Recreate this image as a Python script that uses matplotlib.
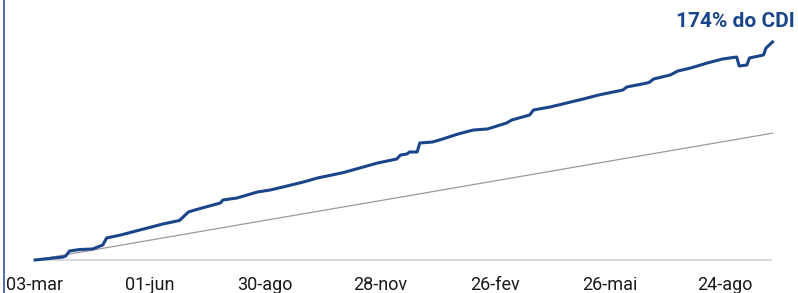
import matplotlib
matplotlib.use("Agg")
import matplotlib.pyplot as plt
import numpy as np
import pandas as pd

plt.rcParams['font.family'] = ['Roboto', 'DejaVu Sans']

start = pd.Timestamp('2019-03-03')

# fund (accumulated %), days since start
fund_days = [0, 22, 24, 27, 35, 45, 49, 53, 56, 67, 82, 100, 113, 120, 125,
             145, 147, 158, 174, 184, 194, 210, 221, 241, 268, 283, 286, 291,
             293, 299, 301, 311, 319, 331, 343, 354, 369, 373, 387, 390, 403,
             416, 429, 441, 460, 463, 479, 481, 484, 497, 503, 513, 526, 538,
             549, 551, 557, 559, 570, 572, 577]
fund_vals = [0.00, 0.18, 0.24, 0.54, 0.63, 0.66, 0.78, 0.90, 1.32, 1.50, 1.80,
             2.16, 2.37, 2.88, 3.00, 3.42, 3.60, 3.72, 4.08, 4.20, 4.38, 4.68,
             4.92, 5.24, 5.82, 6.06, 6.30, 6.36, 6.48, 6.48, 7.02, 7.08, 7.26,
             7.56, 7.80, 7.86, 8.22, 8.40, 8.70, 9.00, 9.18, 9.42, 9.66, 9.90,
             10.20, 10.38, 10.62, 10.68, 10.86, 11.10, 11.34, 11.52, 11.82,
             12.06, 12.18, 11.64, 11.70, 12.12, 12.30, 12.72, 13.08]

# CDI (accumulated %)
cdi_days = [0, 90, 180, 270, 360, 450, 540, 577]
cdi_vals = [0.00, 1.19, 2.38, 3.56, 4.75, 5.94, 7.12, 7.61]

tick_days = [0, 90, 180, 270, 360, 450, 540]
tick_labels = ['03-mar', '01-jun', '30-ago', '28-nov', '26-fev', '26-mai', '24-ago']

fund_x = start + pd.to_timedelta(fund_days, unit='D')
cdi_x = start + pd.to_timedelta(cdi_days, unit='D')
tick_x = start + pd.to_timedelta(tick_days, unit='D')

fig = plt.figure(figsize=(7.98, 2.93), dpi=100)
ax = fig.add_axes([4 / 798, 0, 794 / 798, 1])

ax.hlines(0, fund_x[0], fund_x[-1], color='#D9D9D9', lw=1.5, zorder=1)
ax.plot(cdi_x, cdi_vals, color='#9A9A9A', lw=0.9, zorder=2)
ax.plot(fund_x, fund_vals, color='#1B458A', lw=2.2, zorder=3,
        solid_joinstyle='round')

ax.annotate('174% do CDI', xy=(fund_x[-1], fund_vals[-1]),
            xytext=(16, 11), textcoords='offset points',
            ha='right', va='baseline', fontsize=15, fontweight='bold',
            color='#1B458A')

ax.set_xlim(start - pd.Timedelta(days=24.3), start + pd.Timedelta(days=597))
ax.set_ylim(-1.98, 15.6)

ax.set_xticks(tick_x)
ax.set_xticklabels(tick_labels, fontsize=13, color='#1a1a1a')
ax.tick_params(axis='x', length=0, pad=-12.6)
ax.set_yticks([])

for s in ['top', 'right', 'bottom']:
    ax.spines[s].set_visible(False)
ax.spines['left'].set_color('#2F5597')
ax.spines['left'].set_linewidth(1.2)

fig.savefig('out.png', dpi=100)
